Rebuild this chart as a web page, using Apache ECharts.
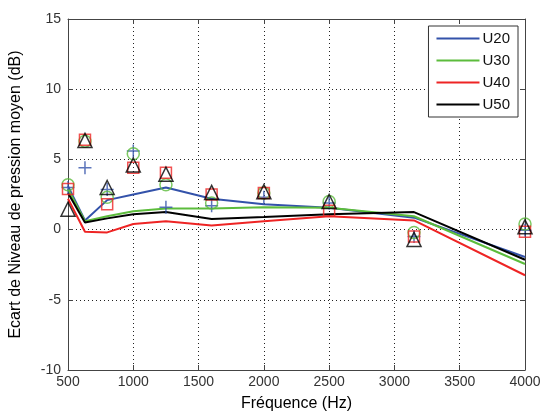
<!DOCTYPE html>
<html>
<head>
<meta charset="utf-8">
<script src="https://cdn.jsdelivr.net/npm/echarts@6/dist/echarts.min.js"></script>
<style>
  html, body { margin: 0; padding: 0; background: #fff; }
  #chart { width: 544px; height: 417px; }
</style>
</head>
<body>
<div id="chart"></div>
<script>
// bandes de tiers d'octave
const freqs = [500, 630, 800, 1000, 1250, 1600, 2000, 2500, 3150, 4000]

// courbes (traits)
const u20Line = [3.1, 0.65, 2.1, 2.5, 3.0, 2.2, 1.8, 1.55, 0.85, -1.95]
const u30Line = [2.9, 0.6, 0.95, 1.3, 1.5, 1.5, 1.6, 1.55, 0.95, -2.45]
const u40Line = [2.2, -0.15, -0.2, 0.4, 0.6, 0.3, 0.6, 0.95, 0.65, -3.25]
const u50Line = [2.6, 0.5, 0.8, 1.1, 1.25, 0.75, 0.9, 1.1, 1.25, -2.15]

// mesures (symboles)
const u20Pts = [3.0, 4.4, 2.85, 5.6, 1.6, 1.7, 2.3, 1.9, -0.5, -0.05]
const u30Pts = [3.2, 6.3, 2.3, 5.4, 3.2, 1.9, 2.6, 2.0, -0.2, 0.4]
const u40Pts = [2.9, 6.4, 1.8, 4.4, 4.05, 2.5, 2.6, 1.35, -0.5, -0.15]
const u50Pts = [1.45, 6.35, 3.0, 4.6, 3.95, 2.65, 2.7, 2.0, -0.7, 0.2]

const xTicks = [500, 1000, 1500, 2000, 2500, 3000, 3500, 4000]
const yTicks = [-10, -5, 0, 5, 10, 15]

const colors = ['#3352aa', '#5cbc3c', '#ee2424', '#000000']
const plus = 'path://M0,5L10,5M5,0L5,10'

const pairs = (arr) => freqs.map((f, i) => [f, arr[i]])

const myChart = echarts.init(document.getElementById('chart'))

const lineSerie = (name, data, color) => ({
  name: name,
  type: 'line',
  data: pairs(data),
  symbol: 'none',
  lineStyle: { color: color, width: 2 },
  itemStyle: { color: color },
  z: 2,
})

const pointSerie = (name, data, color, symbol, size) => ({
  name: name,
  type: 'scatter',
  data: pairs(data),
  symbol: symbol,
  symbolSize: size,
  itemStyle: { color: 'rgba(0,0,0,0)', borderColor: color, borderWidth: 1.5 },
  z: 3,
})

const tickStyle = { inside: true, length: 5, lineStyle: { color: '#444' } }
const axisLine = { show: true, onZero: false, lineStyle: { color: '#444', width: 1 } }
const gridLine = { show: true, lineStyle: { color: '#222', type: [1, 3], width: 1 } }
const labelFont = { color: '#333', fontSize: 14, fontFamily: 'Liberation Sans' }

const options = {
  animation: false,
  backgroundColor: '#fff',
  grid: { left: 67, right: 19, top: 19, bottom: 44 },
  legend: {
    data: ['U20', 'U30', 'U40', 'U50'],
    orient: 'vertical',
    right: 26,
    top: 26,
    backgroundColor: '#fff',
    borderColor: '#333',
    borderWidth: 1,
    padding: [5, 8, 5, 8],
    itemGap: 7,
    itemWidth: 43,
    itemHeight: 2,
    icon: 'rect',
    textStyle: { color: '#111', fontSize: 15, fontFamily: 'Liberation Sans', padding: [0, 0, 0, -2] },
  },
  xAxis: [
    {
      type: 'value',
      min: 500,
      max: 4000,
      interval: 500,
      name: 'Fréquence (Hz)',
      nameLocation: 'middle',
      nameGap: 26,
      nameTextStyle: { color: '#000', fontSize: 16, fontFamily: 'Liberation Sans' },
      axisLine: axisLine,
      axisTick: tickStyle,
      axisLabel: Object.assign({ margin: 5, formatter: (v) => String(v) }, labelFont),
      splitLine: gridLine,
    },
    {
      type: 'value',
      position: 'top',
      min: 500,
      max: 4000,
      interval: 500,
      axisLine: axisLine,
      axisTick: tickStyle,
      axisLabel: { show: false },
      splitLine: { show: false },
    },
  ],
  yAxis: [
    {
      type: 'value',
      min: -10,
      max: 15,
      interval: 5,
      name: 'Ecart de Niveau de pression moyen (dB)',
      nameLocation: 'middle',
      nameGap: 44,
      nameTextStyle: { color: '#000', fontSize: 16, fontFamily: 'Liberation Sans' },
      axisLine: axisLine,
      axisTick: tickStyle,
      axisLabel: Object.assign({ margin: 7 }, labelFont),
      splitLine: gridLine,
    },
    {
      type: 'value',
      position: 'right',
      min: -10,
      max: 15,
      interval: 5,
      axisLine: axisLine,
      axisTick: tickStyle,
      axisLabel: { show: false },
      splitLine: { show: false },
    },
  ],
  series: [
    lineSerie('U20', u20Line, colors[0]),
    lineSerie('U30', u30Line, colors[1]),
    lineSerie('U40', u40Line, colors[2]),
    lineSerie('U50', u50Line, colors[3]),
    pointSerie('U20 mes', u20Pts, colors[0], plus, 13),
    pointSerie('U30 mes', u30Pts, colors[1], 'circle', 12),
    pointSerie('U40 mes', u40Pts, colors[2], 'rect', 11),
    pointSerie('U50 mes', u50Pts, colors[3], 'triangle', 14),
  ],
}
myChart.setOption(options)
</script>
</body>
</html>
